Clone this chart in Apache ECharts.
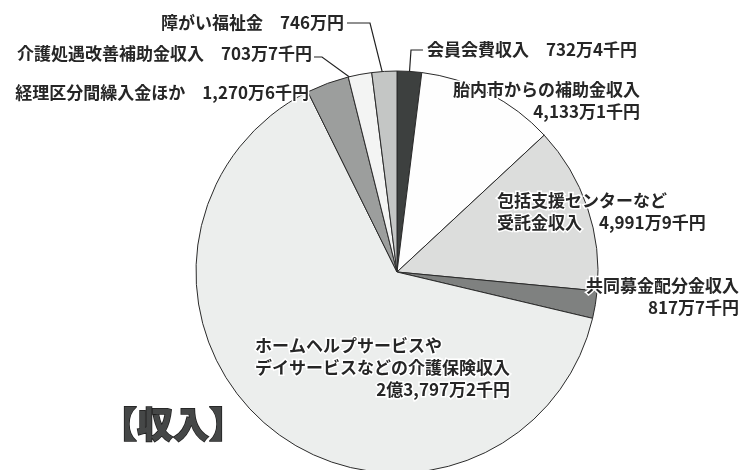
<!DOCTYPE html>
<html><head><meta charset="utf-8">
<script src="https://cdn.jsdelivr.net/npm/echarts@6/dist/echarts.min.js"></script>
<style>html,body{margin:0;padding:0;background:#fff}#c{width:741px;height:470px}</style>
</head><body><div id="c"></div>
<script>
// Data (values in 千円)
const categories = ['会員会費収入','胎内市からの補助金収入','包括支援センターなど\n受託金収入','共同募金配分金収入','ホームヘルプサービスや\nデイサービスなどの介護保険収入','経理区分間繰入金ほか','介護処遇改善補助金収入','障がい福祉金'];
const values = [7324, 41331, 49919, 8177, 237972, 12706, 7037, 7460];
const titleText = '【収入】';

// Styles
const sliceColors = ['#3d403f','#fefefe','#dcdddc','#7f8180','#eceeed','#9c9e9d','#f3f4f3','#c4c6c5'];
const labelMode = ['inline','stack','inline','stack','rich','inline','inline','inline'];
const labelPos = [
  {x:427, y:50, align:'left', line:[[423,50],[411,50]]},
  {x:640, y:101, align:'right'},
  {x:497, y:212, align:'left'},
  {x:739, y:297, align:'right'},
  {x:255, y:368, align:'left'},
  {x:309, y:93, align:'right'},
  {x:312, y:54, align:'right', line:[[314,57],[322,57]]},
  {x:344, y:23, align:'right', line:[[347,23],[370,23]]}
];
const CX = 397, CY = 272, R = 201;

function fmtYen(v){
  const oku = Math.floor(v/100000), man = Math.floor((v%100000)/10), sen = v%10;
  let s = '';
  if (oku) s += oku + '億';
  if (man) s += man.toLocaleString('en-US') + '万';
  if (sen) s += sen + '千';
  return s + '円';
}
const total = values.reduce((a,b)=>a+b,0);
function anchor(i){
  let cum = 0; for (let k=0;k<i;k++) cum += values[k];
  const a = (cum + values[i]/2) / total * Math.PI * 2;
  return [CX + R*0.94*Math.sin(a), CY - R*0.94*Math.cos(a)];
}

const font = 'Noto Sans CJK JP';
const tw = 'bold';
const chart = echarts.init(document.getElementById('c'), null, {renderer:'canvas'});
chart.setOption({
  animation: false,
  backgroundColor: '#fff',
  title: {
    text: titleText, left: 96, top: 401,
    textStyle: {fontSize: 36, fontWeight: 900, color: '#454747', fontFamily: font,
      textBorderColor: '#1e1e1e', textBorderWidth: 1.5}
  },
  series: [{
    type: 'pie',
    center: [CX, CY], radius: R,
    startAngle: 90, clockwise: true,
    avoidLabelOverlap: false, minShowLabelAngle: 0,
    itemStyle: {borderColor: '#2b2b2b', borderWidth: 1},
    emphasis: {disabled: true},
    label: {
      show: true, position: 'outside',
      fontSize: 17, lineHeight: 22, color: '#262626', fontFamily: font, fontWeight: tw,
      textBorderColor: '#fff', textBorderWidth: 3,
      formatter: p => {
        const i = p.dataIndex, v = fmtYen(values[i]);
        if (labelMode[i] === 'inline') return categories[i] + '　' + v;
        if (labelMode[i] === 'stack') return categories[i] + '\n' + v;
        return categories[i].split('\n').map(s => '{a|' + s + '}').join('\n') + '\n{r|' + v + '}';
      },
      rich: {
        a: {fontSize:17, lineHeight:22, color:'#262626', fontFamily:font, fontWeight:tw, textBorderColor:'#fff', textBorderWidth:3, align:'left'},
        r: {fontSize:17, lineHeight:22, color:'#262626', fontFamily:font, fontWeight:tw, textBorderColor:'#fff', textBorderWidth:3, align:'right'}
      }
    },
    labelLine: {show: true, lineStyle: {color: '#222', width: 1.2}},
    labelLayout: p => {
      const L = labelPos[p.dataIndex];
      const res = {x: L.x, y: L.y, align: L.align, verticalAlign: 'middle'};
      if (L.line) res.labelLinePoints = [L.line[0], L.line[1], anchor(p.dataIndex)];
      return res;
    },
    data: categories.map((n,i) => ({
      name: n, value: values[i],
      itemStyle: {color: sliceColors[i]},
      labelLine: {show: !!labelPos[i].line}
    }))
  }]
});
</script></body></html>
